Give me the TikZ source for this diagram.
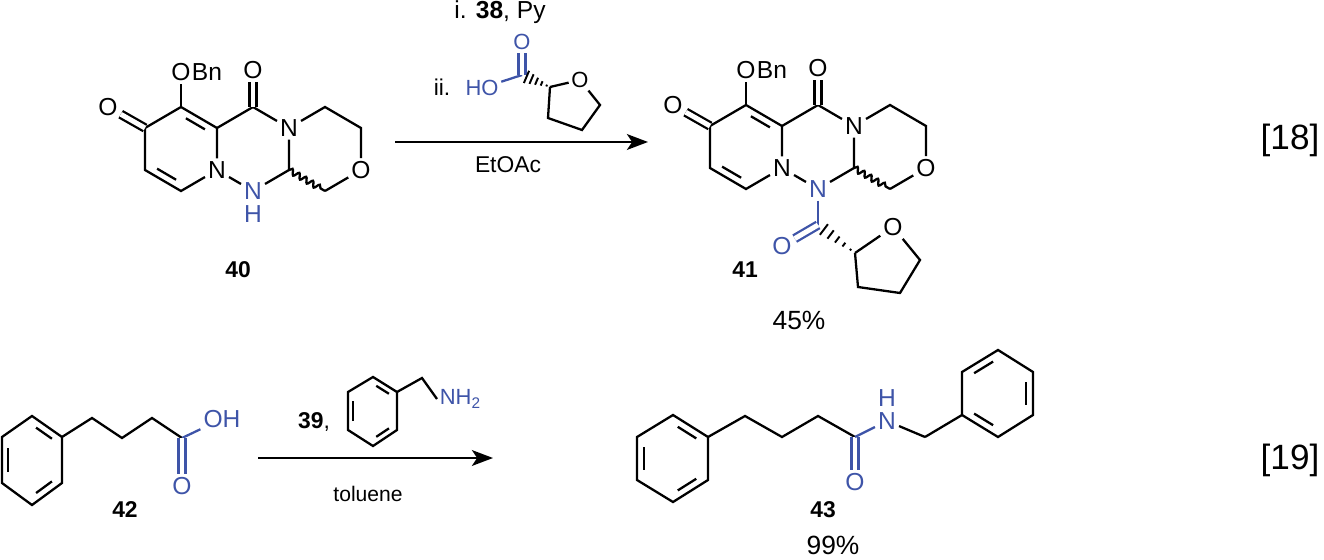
\documentclass[tikz,border=0pt]{standalone}
\usepackage{fontspec}
\setmainfont{Liberation Sans}
\usetikzlibrary{calc,arrows.meta,decorations.pathmorphing}
\definecolor{chemblue}{RGB}{62,84,168}

% inner line of a ring double bond, pulled towards the ring centre
\newcommand\ringdb[3]{\draw[bond] ($(#1)!.17!(#2)!.2!(#3)$) -- ($(#2)!.17!(#1)!.2!(#3)$);}
% hashed bond, narrow at #1
\newcommand\hashbond[2]{%
  \foreach \t in {0.12,0.3,0.48,0.66,0.84}{%
    \pgfmathsetlengthmacro\hw{\t*4.5pt}%
    \coordinate (hp) at ($(#1)!\t!(#2)$);
    \draw[line width=1.1pt] ($(hp)!\hw!90:(#2)$) -- ($(hp)!\hw!-90:(#2)$);}}
% tricyclic core, bottom nitrogen (#1-n2) must exist
\newcommand\tricycle[1]{%
  \coordinate (#1-c7) at (145,128);
  \coordinate (#1-c8) at (181,107);
  \coordinate (#1-c9) at (217,128);
  \node[atom] (#1-n1) at (217,170) {N};
  \coordinate (#1-c5) at (181,191);
  \coordinate (#1-c6) at (145,170);
  \coordinate (#1-r1) at (181,149);
  \coordinate (#1-cc) at (253,107);
  \node[atom] (#1-na) at (289,128) {N};
  \coordinate (#1-ch) at (289,170);
  \coordinate (#1-m1) at (325,107);
  \coordinate (#1-m2) at (361,128);
  \node[atom] (#1-om) at (361,170) {O};
  \coordinate (#1-m4) at (325,191);
  \node[atom] (#1-ok) at (108,107) {O};
  \node[atom] (#1-obn) at (181,72) {O};
  \node[atom,anchor=west,inner sep=0pt,xshift=-1.2pt] at (#1-obn.east) {Bn};
  \node[atom] (#1-oc) at (253,70) {O};
  \draw[bond] (#1-n1) -- (#1-c9) -- (#1-c8) -- (#1-c7) -- (#1-c6) -- (#1-c5) -- (#1-n1);
  \ringdb{#1-c8}{#1-c9}{#1-r1}
  \ringdb{#1-c5}{#1-c6}{#1-r1}
  \draw[dbond] (#1-c7) -- (#1-ok);
  \draw[bond] (#1-c8) -- (#1-obn);
  \draw[bond] (#1-c9) -- (#1-cc) -- (#1-na) -- (#1-m1) -- (#1-m2) -- (#1-om) -- (#1-m4);
  \draw[dbond] (#1-cc) -- (#1-oc);
  \draw[bond] (#1-na) -- (#1-ch) -- (#1-n2) -- (#1-n1);
  \draw[bond,decorate,decoration={snake,amplitude=1.6pt,segment length=4.5pt,post length=2pt}] (#1-ch) -- (#1-m4);}

\begin{document}
\begin{tikzpicture}[x=0.02cm,y=-0.02cm,
  bond/.style={line width=1.3pt},
  dbond/.style={line width=1.3pt,double,double distance=2.8pt},
  atom/.style={inner sep=1.6pt,font=\fontsize{14}{15}\selectfont},
  small atom/.style={inner sep=1.4pt,font=\fontsize{12.5}{13}\selectfont},
  cmpd/.style={font=\fontsize{13}{14}\selectfont\bfseries},
  yield/.style={font=\fontsize{15}{16}\selectfont},
  cond/.style={font=\fontsize{13}{14}\selectfont},
  eqno/.style={font=\fontsize{20}{21}\selectfont},
  rxn arrow/.style={line width=1.3pt,-{Stealth[length=12pt,width=9pt,inset=3pt]}}]
  \useasboundingbox (0,0) rectangle (1324,560);

  % [18]
  \node[atom,text=chemblue] (a-n2) at (253,191) {N};
  \node[atom,text=chemblue,anchor=north] (a-h) at (a-n2.south) {H};
  \tricycle{a}
  \node[cmpd] (l40) at (238,270) {40};

  \coordinate (ar1s) at (395,142);
  \coordinate (ar1e) at (648,142);
  \draw[rxn arrow] (ar1s) -- (ar1e);
  \node[cond,font=\fontsize{14}{15}\selectfont] (c1) at (500,12) {i. \textbf{38}, Py};
  \node[cond] (c2) at (442,87) {ii.};
  \node[small atom,text=chemblue] (r-oh) at (482,88) {HO};
  \coordinate (r-c) at (522,75);
  \node[small atom,text=chemblue] (r-o) at (522,42) {O};
  \coordinate (r-c2) at (550,87);
  \node[small atom] (r-ot) at (580,80) {O};
  \coordinate (r-c5) at (600,105);
  \coordinate (r-c4) at (582,130);
  \coordinate (r-c3) at (548,118);
  \draw[bond,chemblue] (r-oh) -- (r-c);
  \draw[dbond,chemblue] (r-c) -- (r-o);
  \hashbond{r-c2}{r-c}
  \draw[bond] (r-c2) -- (r-ot) -- (r-c5) -- (r-c4) -- (r-c3) -- (r-c2);
  \node[cond] (c3) at (508,165) {EtOAc};

  \begin{scope}[shift={(565,-2)}]
    \node[atom,text=chemblue] (b-n2) at (253,191) {N};
    \tricycle{b}
    \coordinate (b-ca) at (253,227);
    \node[atom,text=chemblue] (b-oa) at (217,248) {O};
    \coordinate (b-t2) at (290,255);
    \node[atom] (b-to) at (328,229) {O};
    \coordinate (b-t5) at (355,262);
    \coordinate (b-t4) at (335,295);
    \coordinate (b-t3) at (293,289);
    \draw[bond,chemblue] (b-n2) -- (b-ca);
    \draw[dbond,chemblue] (b-ca) -- (b-oa);
    \hashbond{b-t2}{b-ca}
    \draw[bond] (b-t2) -- (b-to) -- (b-t5) -- (b-t4) -- (b-t3) -- (b-t2);
  \end{scope}
  \node[cmpd] (l41) at (745,270) {41};
  \node[yield] (y41) at (799,320) {45\%};
  \node[eqno] (e18) at (1290,140) {[18]};

  % [19]
  \coordinate (p1) at (32,416);
  \coordinate (p2) at (62,437);
  \coordinate (p3) at (62,483);
  \coordinate (p4) at (32,505);
  \coordinate (p5) at (2,483);
  \coordinate (p6) at (2,437);
  \coordinate (pc) at (32,460);
  \draw[bond] (p1) -- (p2) -- (p3) -- (p4) -- (p5) -- (p6) -- cycle;
  \ringdb{p1}{p2}{pc}
  \ringdb{p3}{p4}{pc}
  \ringdb{p5}{p6}{pc}
  \coordinate (k1) at (92,418);
  \coordinate (k2) at (122,438);
  \coordinate (k3) at (152,418);
  \coordinate (k4) at (182,438);
  \node[atom,text=chemblue] (k-oh) at (222,419) {OH};
  \node[atom,text=chemblue] (k-o) at (182,486) {O};
  \draw[bond] (p2) -- (k1) -- (k2) -- (k3) -- (k4);
  \draw[bond,chemblue] (k4) -- (k-oh);
  \draw[dbond,chemblue] (k4) -- (k-o);
  \node[cmpd] (l42) at (125,510) {42};

  \coordinate (ar2s) at (258,458);
  \coordinate (ar2e) at (493,458);
  \draw[rxn arrow] (ar2s) -- (ar2e);
  \node[cond,font=\fontsize{13}{14}\selectfont\bfseries] (c4) at (314,422) {39\textmd{,}};
  \coordinate (q1) at (373,377);
  \coordinate (q2) at (397,392);
  \coordinate (q3) at (397,430);
  \coordinate (q4) at (373,446);
  \coordinate (q5) at (348,430);
  \coordinate (q6) at (348,392);
  \coordinate (qc) at (373,411);
  \draw[bond] (q1) -- (q2) -- (q3) -- (q4) -- (q5) -- (q6) -- cycle;
  \ringdb{q1}{q2}{qc}
  \ringdb{q3}{q4}{qc}
  \ringdb{q5}{q6}{qc}
  \coordinate (q-ch) at (422,378);
  \node[small atom,text=chemblue,anchor=west] (q-n) at (437,399) {NH\textsubscript{2}};
  \draw[bond] (q2) -- (q-ch) -- (q-n.west);
  \node[cond,font=\fontsize{12}{13}\selectfont] (c5) at (368,494) {toluene};

  \coordinate (s1) at (673,415);
  \coordinate (s2) at (708,437);
  \coordinate (s3) at (708,480);
  \coordinate (s4) at (673,502);
  \coordinate (s5) at (637,480);
  \coordinate (s6) at (637,437);
  \coordinate (sc) at (673,459);
  \draw[bond] (s1) -- (s2) -- (s3) -- (s4) -- (s5) -- (s6) -- cycle;
  \ringdb{s1}{s2}{sc}
  \ringdb{s3}{s4}{sc}
  \ringdb{s5}{s6}{sc}
  \coordinate (t1) at (745,416);
  \coordinate (t2) at (782,437);
  \coordinate (t3) at (818,416);
  \coordinate (t4) at (855,437);
  \node[atom,text=chemblue] (t-o) at (855,482) {O};
  \node[atom,text=chemblue] (t-n) at (887,421) {N};
  \node[atom,text=chemblue,anchor=south] (t-h) at (t-n.north) {H};
  \coordinate (t-ch) at (925,437);
  \draw[bond] (s2) -- (t1) -- (t2) -- (t3) -- (t4);
  \draw[dbond,chemblue] (t4) -- (t-o);
  \draw[bond,chemblue] (t4) -- (t-n);
  \draw[bond] (t-n) -- (t-ch);
  \coordinate (g1) at (962,415);
  \coordinate (g2) at (962,372);
  \coordinate (g3) at (998,350);
  \coordinate (g4) at (1033,372);
  \coordinate (g5) at (1033,415);
  \coordinate (g6) at (998,437);
  \coordinate (gc) at (998,393);
  \draw[bond] (g1) -- (g2) -- (g3) -- (g4) -- (g5) -- (g6) -- cycle;
  \ringdb{g2}{g3}{gc}
  \ringdb{g4}{g5}{gc}
  \ringdb{g6}{g1}{gc}
  \draw[bond] (t-ch) -- (g1);
  \node[cmpd] (l43) at (823,510) {43};
  \node[yield] (y43) at (833,545) {99\%};
  \node[eqno] (e19) at (1290,460) {[19]};
\end{tikzpicture}
\end{document}
